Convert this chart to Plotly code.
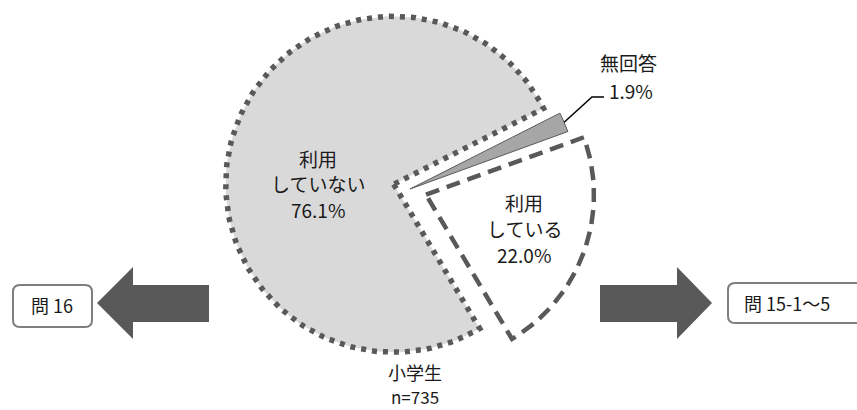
import math
import plotly.graph_objects as go

# ---- data ----
categories = ["利用している", "利用していない", "無回答"]
label_lines = [["利用", "している"], ["利用", "していない"], ["無回答"]]
values = [22.0, 76.1, 1.9]
group_label = "小学生"
n_label = "n=735"
left_box_text = "問 16"
right_box_text = "問 15-1～5"

# ---- style / layout ----
W, H = 857, 410
CX, CY, R = 410, 189, 168
START = 70  # bearing of first slice, degrees clockwise from 12 o'clock
explode = [17, 17, 0]
fills = ["#ffffff", "#d9d9d9", "#a6a6a6"]
line_dash = ["14px,8px", "5px,6px", "solid"]
line_width = [4.5, 5.5, 1]
EDGE = "#595959"
FONT = "Noto Sans CJK JP"
TXT = "#1a1a1a"
FS = 19


def pt(cx, cy, r, bearing):
    a = math.radians(bearing)
    return cx + r * math.sin(a), cy - r * math.cos(a)


fig = go.Figure()
total = sum(values)
acc = START
geo = []
for i, v in enumerate(values):
    a0 = acc
    a1 = acc + 360 * v / total
    acc = a1
    mid = (a0 + a1) / 2
    ox, oy = pt(CX, CY, explode[i], mid)
    n = max(4, int((a1 - a0) / 1.5))
    xs, ys = [ox], [oy]
    for k in range(n + 1):
        x, y = pt(ox, oy, R, a0 + (a1 - a0) * k / n)
        xs.append(x)
        ys.append(y)
    xs.append(ox)
    ys.append(oy)
    geo.append((ox, oy, a0, a1, mid))
    fig.add_trace(go.Scatter(
        x=xs, y=ys, mode="lines", fill="toself", fillcolor=fills[i],
        line=dict(color=EDGE, width=line_width[i], dash=line_dash[i]),
        hoverinfo="skip", showlegend=False, name=categories[i]))

# leader line for the small slice
ox, oy, a0, a1, mid = geo[2]
lx, ly = pt(ox, oy, R, mid)
fig.add_trace(go.Scatter(
    x=[lx, 592, 604], y=[ly, 97, 97], mode="lines",
    line=dict(color="#000000", width=1.5), hoverinfo="skip", showlegend=False))

annotations = []


def stack(x, y_top, lines, step=25.5, **kw):
    for j, t in enumerate(lines):
        annotations.append(dict(x=x, y=y_top + j * step, text=t, **kw))


stack(318, 158, label_lines[1] + [f"{values[1]:.1f}%"])
stack(524, 202, label_lines[0] + [f"{values[0]:.1f}%"], step=26)
annotations.append(dict(x=628, y=62, text=label_lines[2][0]))
annotations.append(dict(x=607, y=90, text=f"{values[2]:.1f}%", xanchor="left"))
annotations.append(dict(x=415, y=372, text=group_label, size=18))
annotations.append(dict(x=415, y=396, text=n_label, size=17))
annotations.append(dict(x=52, y=305, text=left_box_text, size=18))
annotations.append(dict(x=742, y=303, text=right_box_text, xanchor="left", size=18))

for a in annotations:
    a.setdefault("xanchor", "center")
    sz = a.pop("size", FS)
    a.update(xref="x", yref="y", showarrow=False, yanchor="middle",
             font=dict(family=FONT, size=sz, color=TXT))


def rounded(x0, y0, x1, y1, r):
    return (f"M{x0+r},{y0} L{x1-r},{y0} Q{x1},{y0} {x1},{y0+r} L{x1},{y1-r} "
            f"Q{x1},{y1} {x1-r},{y1} L{x0+r},{y1} Q{x0},{y1} {x0},{y1-r} "
            f"L{x0},{y0+r} Q{x0},{y0} {x0+r},{y0} Z")


shapes = [
    # left arrow
    dict(type="path", path="M97,303 L133,267 L133,285 L209,285 L209,322 L133,322 L133,339 Z",
         fillcolor=EDGE, line=dict(width=0)),
    # right arrow
    dict(type="path", path="M600,285 L677,285 L677,267 L712,303 L677,339 L677,322 L600,322 Z",
         fillcolor=EDGE, line=dict(width=0)),
    dict(type="path", path=rounded(13, 285, 92, 327, 7),
         fillcolor="#ffffff", line=dict(color="#7f7f7f", width=2)),
    dict(type="path", path=rounded(728, 283, 880, 323, 7),
         fillcolor="#ffffff", line=dict(color="#7f7f7f", width=2)),
]
for s in shapes:
    s.update(xref="x", yref="y", layer="below")

fig.update_layout(
    width=W, height=H, margin=dict(l=0, r=0, t=0, b=0),
    paper_bgcolor="#ffffff", plot_bgcolor="#ffffff",
    xaxis=dict(range=[0, W], visible=False, fixedrange=True),
    yaxis=dict(range=[H, 0], visible=False, fixedrange=True),
    annotations=annotations, shapes=shapes, showlegend=False,
)
fig.write_html(
    "out.html",
    config={"displayModeBar": False},
    post_script="document.body.style.margin='0';document.body.style.overflow='hidden';",
)
